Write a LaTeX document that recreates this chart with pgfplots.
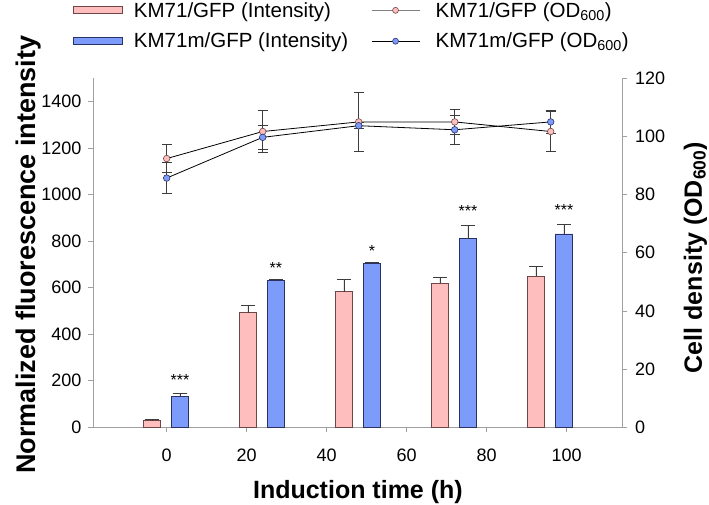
\documentclass[border=0pt]{standalone}
\usepackage{fontspec}
\setmainfont{Liberation Sans}
\usepackage{pgfplots}
\pgfplotsset{compat=1.18}

\definecolor{pinkfill}{RGB}{255,190,190}
\definecolor{pinkedge}{RGB}{110,70,70}
\definecolor{bluefill}{RGB}{125,155,250}
\definecolor{blueedge}{RGB}{40,50,100}
\definecolor{axisgray}{RGB}{160,160,160}
\definecolor{errgray}{RGB}{60,60,60}

\pgfplotsset{
  base/.style={
    scale only axis, width=528.8pt, height=349pt,
    xmin=-18.3, xmax=113.9,
    /pgf/number format/assume math mode=true,
    /pgf/number format/1000 sep={},
    tick label style={font=\fontsize{18}{20}\selectfont},
    axis line style={axisgray, line width=0.8pt},
    major tick length=5pt,
    tick style={axisgray, line width=0.8pt},
    tick align=outside,
  },
  barerr/.style={error bars/.cd, y dir=plus, y explicit,
    error bar style={errgray, line width=0.8pt},
    error mark options={rotate=90, mark size=7pt, errgray, line width=0.8pt}},
  lineerr/.style={error bars/.cd, y dir=both, y explicit,
    error bar style={errgray, line width=0.8pt},
    error mark options={rotate=90, mark size=5pt, errgray, line width=0.8pt}},
}

\begin{document}
\begin{tikzpicture}
% intensity bars (left axis)
\begin{axis}[base,
  axis x line*=bottom, axis y line*=left,
  ymin=0, ymax=1500, ytick={0,200,...,1400},
  xtick={0,20,...,100},
  xticklabel shift=13.5pt, yticklabel shift=3.5pt,
  xlabel={Induction time (h)},
  xlabel style={at={(axis description cs:0.5,-0.2054)}, anchor=base, inner sep=0pt,
    font=\fontsize{25}{28}\selectfont\bfseries},
  ylabel={Normalized fluorescence intensity},
  ylabel style={at={(axis description cs:-0.1106,0.495)}, anchor=base, inner sep=0pt,
    font=\fontsize{27}{30}\selectfont\bfseries},
  ybar, bar width=4.4, bar shift=0pt,
]
\addplot[fill=pinkfill, draw=pinkedge, line width=0.8pt, barerr] coordinates {
  (-3.7,30) +- (0,3)
  (20.3,492) +- (0,34)
  (44.3,583) +- (0,51)
  (68.3,620) +- (0,26)
  (92.3,650) +- (0,43)
};
\addplot[fill=bluefill, draw=blueedge, line width=0.8pt, barerr] coordinates {
  (3.3,133) +- (0,14)
  (27.3,632) +- (0,3)
  (51.3,705) +- (0,2)
  (75.3,810) +- (0,57)
  (99.3,831) +- (0,43)
};
\node[font=\fontsize{16}{18}\selectfont] at (axis cs:3.3,205) {***};
\node[font=\fontsize{16}{18}\selectfont] at (axis cs:27.3,686) {**};
\node[font=\fontsize{16}{18}\selectfont] at (axis cs:51.3,759) {*};
\node[font=\fontsize{16}{18}\selectfont] at (axis cs:75.3,931) {***};
\node[font=\fontsize{16}{18}\selectfont] at (axis cs:99.3,932) {***};
\end{axis}

% cell density lines (right axis)
\begin{axis}[base,
  axis x line=none, axis y line*=right,
  ymin=0, ymax=120, ytick={0,20,...,120},
  yticklabel shift=4.3pt,
  ylabel={Cell density (OD\textsubscript{600})},
  ylabel style={at={(axis description cs:1.1507,0.4865)}, anchor=base, inner sep=0pt,
    font=\fontsize{25}{28}\selectfont\bfseries},
  legend columns=2,
  legend style={at={(axis description cs:-0.0388,1.2244)}, anchor=north west,
    draw=none, fill=none, inner sep=0pt,
    font=\fontsize{20.5}{22}\selectfont,
    /tikz/every odd column/.append style={column sep=9pt},
    /tikz/every even column/.append style={column sep=21pt},
    row sep=10.5pt, cells={anchor=west}},
]
\addplot[forget plot, black, line width=0.8pt, mark=*, mark size=3.3pt,
  mark options={fill=pinkfill, draw=pinkedge, line width=0.6pt}, lineerr] coordinates {
  (0,92.4) +- (0,4.8)
  (24,101.7) +- (0,7.1)
  (48,105.0) +- (0,10.3)
  (72,105.0) +- (0,4.3)
  (96,101.7) +- (0,7.0)
};
\addplot[forget plot, black, line width=0.8pt, mark=*, mark size=3.3pt,
  mark options={fill=bluefill, draw=blueedge, line width=0.6pt}, lineerr] coordinates {
  (0,85.7) +- (0,5.4)
  (24,99.7) +- (0,4.0)
  (48,103.7) +- (0,1.0)
  (72,102.3) +- (0,5.0)
  (96,105.0) +- (0,3.8)
};
\addlegendimage{legend image code/.code={\draw[fill=pinkfill, draw=pinkedge, line width=0.8pt] (0pt,-3.5pt) rectangle (49pt,3.5pt);}}
\addlegendentry{KM71/GFP (Intensity)}
\addlegendimage{legend image code/.code={\path (0pt,0pt) (53pt,0pt); \draw[gray, line width=0.8pt] (0pt,0pt) -- (48pt,0pt); \draw[fill=pinkfill, draw=pinkedge, line width=0.6pt] (24pt,0pt) circle (3pt);}}
\addlegendentry{KM71/GFP (OD\textsubscript{600})}
\addlegendimage{legend image code/.code={\draw[fill=bluefill, draw=blueedge, line width=0.8pt] (0pt,-3.5pt) rectangle (49pt,3.5pt);}}
\addlegendentry{KM71m/GFP (Intensity)}
\addlegendimage{legend image code/.code={\path (0pt,0pt) (53pt,0pt); \draw[black, line width=0.8pt] (0pt,0pt) -- (48pt,0pt); \draw[fill=bluefill, draw=blueedge, line width=0.6pt] (24pt,0pt) circle (3pt);}}
\addlegendentry{KM71m/GFP (OD\textsubscript{600})}
\end{axis}
% page matches the reference frame (709 x 505)
\pgfresetboundingbox
\path[use as bounding box] (-93.5pt,-77.7pt) rectangle (615.5pt,427.3pt);
\end{tikzpicture}
\end{document}
